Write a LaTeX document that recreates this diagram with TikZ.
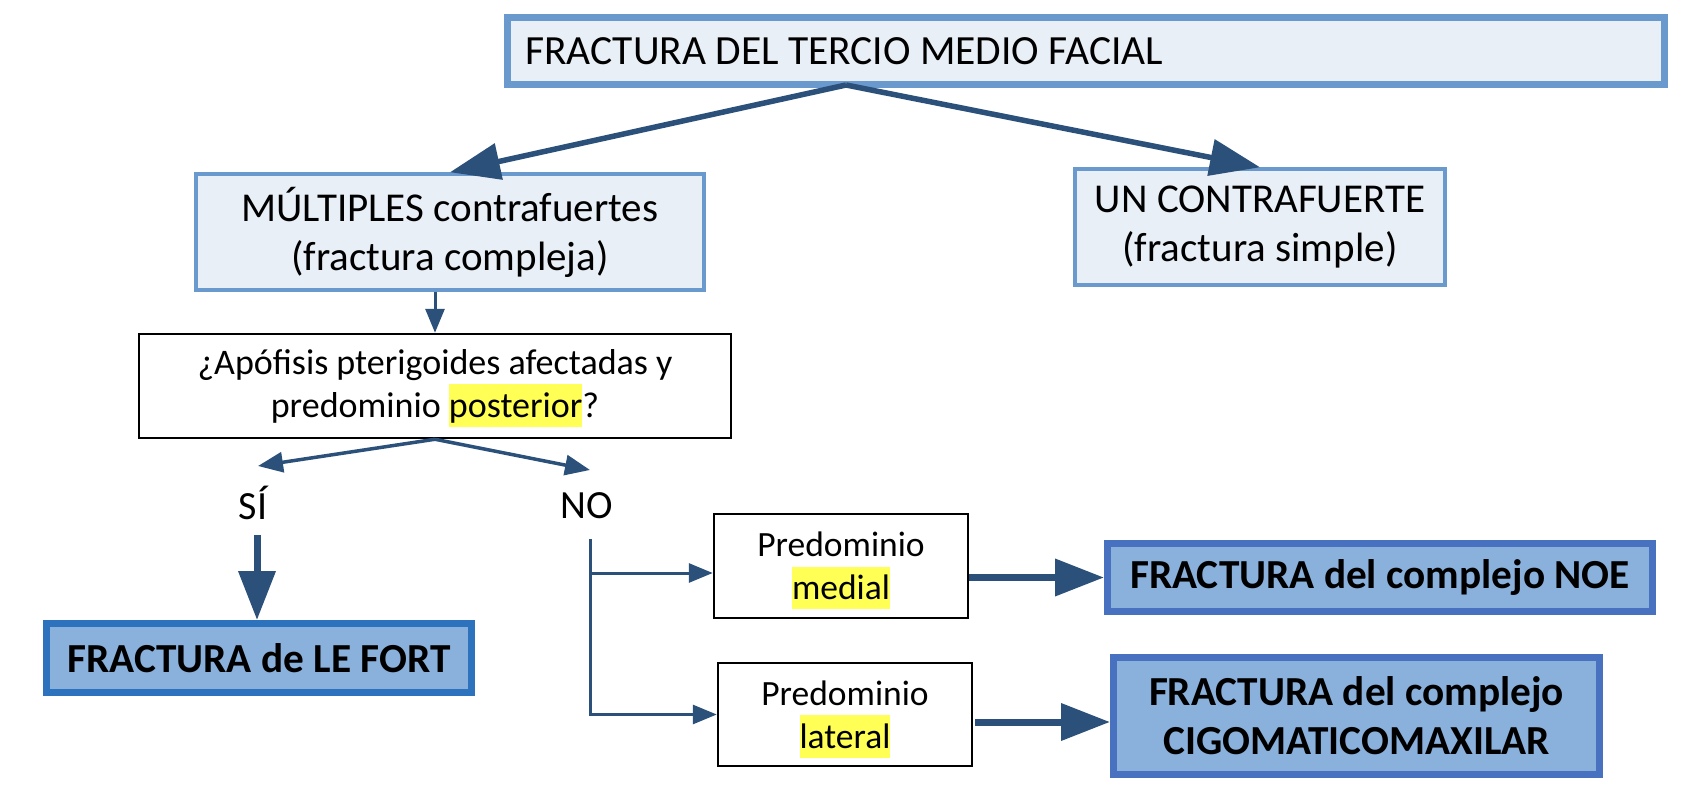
\documentclass[tikz,border=0pt]{standalone}
\usepackage{fontspec}
\setmainfont{Carlito}
\usetikzlibrary{arrows.meta,calc}
\definecolor{lightfill}{RGB}{233,239,247}
\definecolor{lightborder}{RGB}{106,153,205}
\definecolor{arrowblue}{RGB}{43,80,122}
\definecolor{darkfill}{RGB}{138,176,220}
\definecolor{noeborder}{RGB}{72,114,192}
\definecolor{lefortborder}{RGB}{44,114,188}
\definecolor{hly}{RGB}{255,255,85}
\newcommand\hl[1]{\smash{{\setlength{\fboxsep}{0pt}\colorbox{hly}{\rule[-0.27em]{0pt}{1.2em}#1}}}}
\begin{document}
\begin{tikzpicture}[x=1pt,y=-1pt,
  titlebox/.style={draw=lightborder, fill=lightfill, line width=7pt, inner sep=0pt},
  lightbox/.style={draw=lightborder, fill=lightfill, line width=3.5pt, align=center, inner sep=0pt,
     font=\fontsize{41}{49}\selectfont},
  plainbox/.style={draw=black, fill=white, line width=2.5pt, align=center, inner sep=0pt},
  resultbox/.style={draw=noeborder, fill=darkfill, line width=7pt, align=center, inner sep=0pt,
     font=\bfseries\fontsize{41.3}{49}\selectfont},
  label/.style={inner sep=0pt, font=\fontsize{40}{46}\selectfont},
  bigarrow/.style={draw=arrowblue, line width=5.5pt, -{Triangle[length=50pt,width=36pt]}},
  thinarrow/.style={draw=arrowblue, line width=3pt, -{Triangle[length=24pt,width=19pt]}},
  fatarrow/.style={draw=arrowblue, line width=7pt, -{Triangle[length=49pt,width=36pt]}}
]
\useasboundingbox[fill=white] (0,0) rectangle (1690,800);

\coordinate (tapex) at (846,85);
\coordinate (sitip) at (258,466);
\coordinate (notip) at (590,470);
\coordinate (sistart) at (257,535);
\coordinate (notop) at (590,539);

% boxes
\node[titlebox, minimum width=1157, minimum height=67] (title) at (1085.5,51.5) {};
\node[inner sep=0pt, anchor=west, font=\fontsize{41.5}{48}\selectfont] (titletext) at (525,51.5) {FRACTURA DEL TERCIO MEDIO FACIAL};

\node[lightbox, minimum width=508, minimum height=116] (multi) at (450,232) {MÚLTIPLES contrafuertes\\(fractura compleja)};
\node[lightbox, minimum width=370, minimum height=116] (simple) at (1260,227) {UN CONTRAFUERTE\\(fractura simple)};

\node[plainbox, minimum width=592, minimum height=104, font=\fontsize{36}{43}\selectfont] (q) at (435,386)
  {¿Apófisis pterigoides afectadas y\\predominio \hl{posterior}?};

\node[label] (si) at (253,503) {SÍ};
\node[label] (no) at (587,506) {NO};

\node[resultbox, draw=lefortborder, minimum width=425, minimum height=69] (lefort) at (259,658) {FRACTURA de LE FORT};

\node[plainbox, minimum width=254, minimum height=104, font=\fontsize{35.5}{43}\selectfont] (medial) at (841,566) {Predominio\\\hl{medial}};
\node[plainbox, minimum width=254, minimum height=103, font=\fontsize{35.5}{43}\selectfont] (lateral) at (845,714.5) {Predominio\\\hl{lateral}};

\node[resultbox, minimum width=545, minimum height=68] (noe) at (1380,577.5) {FRACTURA del complejo NOE};
\node[resultbox, minimum width=486, minimum height=117] (cigo) at (1356.5,716) {FRACTURA del complejo\\CIGOMATICOMAXILAR};

% connectors
\draw[bigarrow] (tapex) -- (multi.north);
\draw[bigarrow] (tapex) -- (simple.north);
\draw[thinarrow] (multi.south -| q.north) -- (q.north);
\draw[thinarrow, line width=3.5pt, -{Triangle[length=25pt,width=20pt]}] (q.south) -- (sitip);
\draw[thinarrow, line width=3.5pt, -{Triangle[length=25pt,width=20pt]}] (q.south) -- (notip);
\draw[fatarrow] (sistart) -- (sistart |- lefort.north);
\draw[thinarrow] (notop) |- ([yshift=-7pt]medial.west);
\draw[thinarrow] (notop) |- (lateral.west);
\draw[fatarrow] (medial.east |- noe.west) -- (noe.west);
\draw[fatarrow] ([xshift=2pt,yshift=-7.5pt]lateral.east) -- ([yshift=-7.5pt]lateral.east -| cigo.west);
\end{tikzpicture}
\end{document}
